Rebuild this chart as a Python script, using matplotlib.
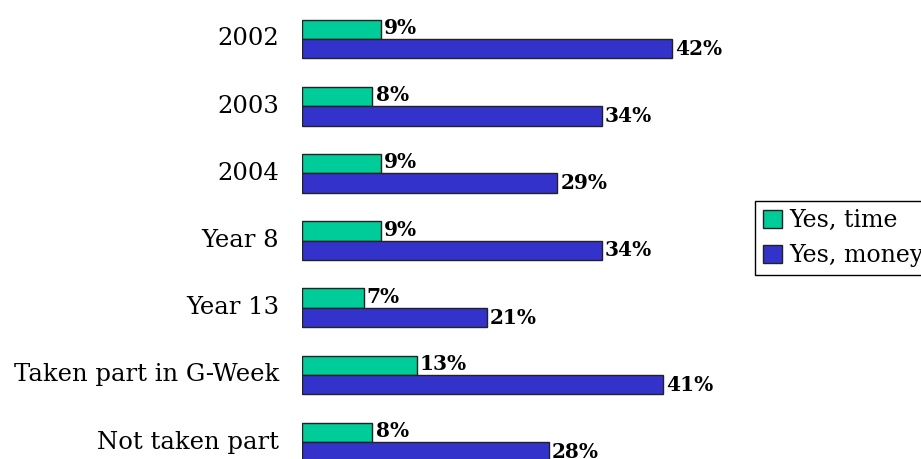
import matplotlib.pyplot as plt
import numpy as np

categories = ['2002', '2003', '2004', 'Year 8', 'Year 13', 'Taken part in G-Week', 'Not taken part']
time_vals = [9, 8, 9, 9, 7, 13, 8]
money_vals = [42, 34, 29, 34, 21, 41, 28]
series_names = ['Yes, time', 'Yes, money']

green = '#00CC99'
blue = '#3333CC'

plt.rcParams['font.family'] = ['DejaVu Serif']

W, H = 921, 459
fig = plt.figure(figsize=(W / 100, H / 100), dpi=100)
ax_left = 302 / W
ax_right = 740 / W
ax = fig.add_axes([ax_left, 0, ax_right - ax_left, 1])

px_per_pct = (672 - 302) / 42
ax.set_xlim(0, (740 - 302) / px_per_pct)
y0, step = 39, 67.2
ax.set_ylim((H - y0) / step, -y0 / step)

y = np.arange(len(categories))
h = 0.29
ax.barh(y - h / 2, time_vals, height=h, color=green, edgecolor='#222222', linewidth=1, label=series_names[0])
ax.barh(y + h / 2, money_vals, height=h, color=blue, edgecolor='#222222', linewidth=1, label=series_names[1])

for i in range(len(categories)):
    ax.text(time_vals[i] + 0.35, y[i] - h / 2 - 0.02, f'{time_vals[i]}%', va='center', ha='left',
            fontsize=14.5, fontweight='bold')
    ax.text(money_vals[i] + 0.35, y[i] + h / 2, f'{money_vals[i]}%', va='center', ha='left',
            fontsize=14.5, fontweight='bold')
    ax.text(-23 / px_per_pct, y[i], categories[i], va='center', ha='right', fontsize=17.5)

ax.axis('off')

fig.legend(loc='upper left', bbox_to_anchor=(755 / W, 1 - 201 / H), frameon=True, fancybox=False,
           edgecolor='black', framealpha=1, prop={'size': 17},
           handlelength=0.8, handleheight=0.8, handletextpad=0.3, borderpad=0.35, labelspacing=0.5,
           borderaxespad=0)

fig.savefig('out.png', dpi=100)
